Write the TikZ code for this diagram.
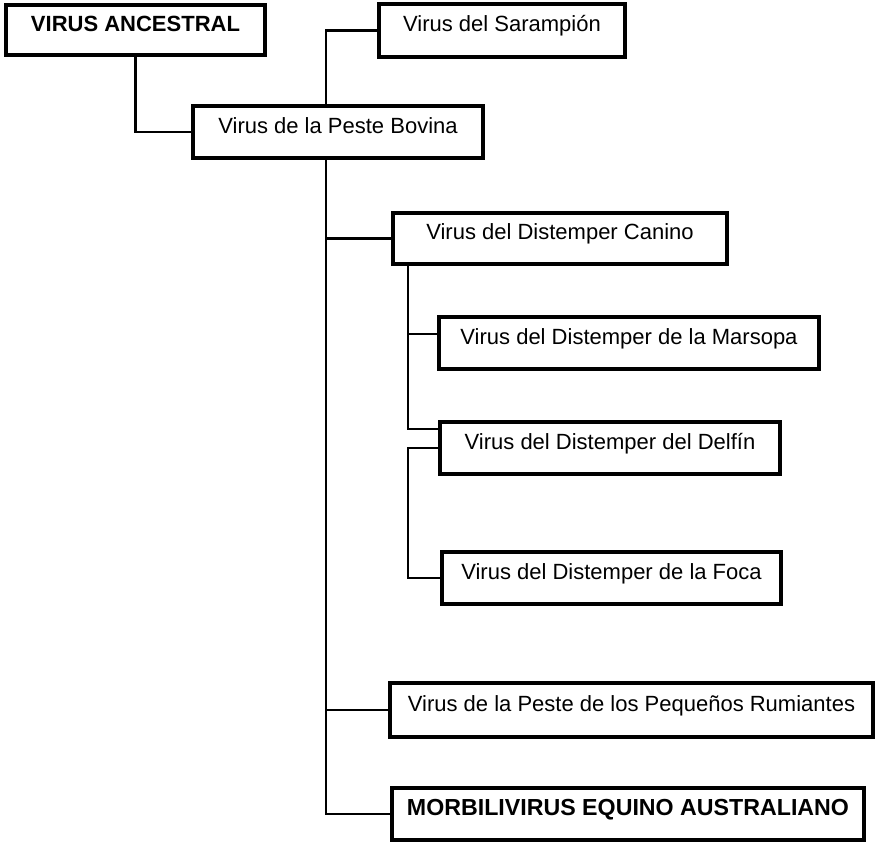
\documentclass[tikz,border=0pt]{standalone}
\usepackage{fontspec}
\setmainfont{Liberation Sans}
\usepackage{xcolor}
\usepackage{tikz}
\usetikzlibrary{positioning}
\definecolor{ink}{HTML}{000000}
\definecolor{paper}{HTML}{FFFFFF}
\tikzset{
  vbox/.style={draw=ink, line width=1.7pt, fill=paper, rectangle, inner sep=0pt,
    text height=6.5pt, text depth=5.5pt, align=center, font=\fontsize{11}{13}\selectfont},
  vcap/.style={vbox, font=\fontsize{11}{13}\selectfont\bfseries},
  wire/.style={draw=ink, line width=1.3pt, line cap=rect},
}
\begin{document}
\begin{tikzpicture}[x=0.5pt, y=-0.5pt]
\useasboundingbox[fill=paper] (0,0) rectangle (875,842);
% trunk positions
\coordinate (t1) at (326,0);
\coordinate (t2) at (408,0);
% boxes
\node[vcap, minimum width=129.5pt, minimum height=25pt] (anc) at (135.5,30) {VIRUS ANCESTRAL};
\node[vbox, minimum width=123pt, minimum height=26.5pt] (sar) at (502,30.5) {Virus del Sarampión};
\node[vbox, minimum width=145pt, minimum height=26pt] (bov) at (338,132) {Virus de la Peste Bovina};
\node[vbox, minimum width=167pt, minimum height=25.5pt] (can) at (560,238.5) {Virus del Distemper Canino};
\node[vbox, minimum width=190pt, minimum height=26pt] (mar) at (629,343) {Virus del Distemper de la Marsopa};
\node[vbox, minimum width=170pt, minimum height=26pt] (del) at (610,448) {Virus del Distemper del Delfín};
\node[vbox, minimum width=169.5pt, minimum height=26pt] (foc) at (611.5,578) {Virus del Distemper de la Foca};
\node[vbox, minimum width=241.5pt, minimum height=27pt] (ppr) at (631.5,710) {Virus de la Peste de los Pequeños Rumiantes};
\node[vcap, minimum width=236pt, minimum height=26pt, font=\fontsize{11.6}{13}\selectfont\bfseries] (mor) at (628,814) {MORBILIVIRUS EQUINO AUSTRALIANO};
% connectors
\draw[wire] (anc.south) |- (bov.west);
\draw[wire] (bov.north -| t1) |- (sar.west);
\draw[wire] (bov.south -| t1) |- (mor.west);
\draw[wire] (t1 |- can.west) -- (can.west);
\draw[wire] (t1 |- ppr.west) -- (ppr.west);
\draw[wire] (can.south -| t2) |- ([yshift=9.5pt]del.west);
\draw[wire] ([yshift=4.5pt]mar.west) -| (t2 |- can.south);
\draw[wire] (del.west) -| (t2 |- foc.west) -- (foc.west);
\end{tikzpicture}
\end{document}
